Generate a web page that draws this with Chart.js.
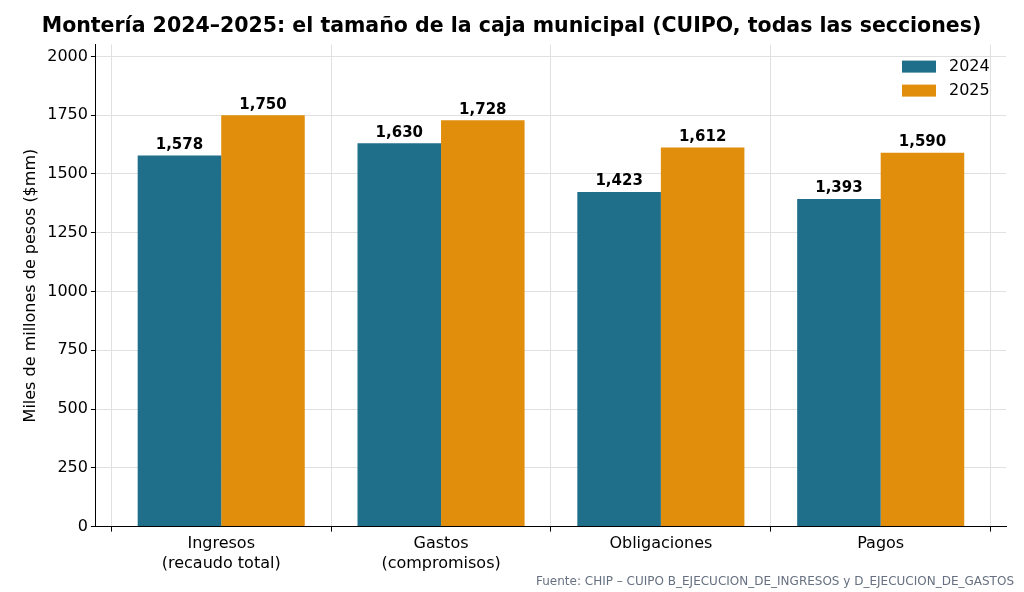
<!DOCTYPE html>
<html><head><meta charset="utf-8">
<script src="https://cdn.jsdelivr.net/npm/chart.js@4"></script>
<style>body{margin:0;background:#fff}#w{width:1024px;height:592px;position:relative}
#src{position:absolute;right:10px;bottom:4px;font:12px "DejaVu Sans";color:#667080}</style>
</head><body><div id="w"><canvas id="c" width="1024" height="592"></canvas><div id="src">Fuente: CHIP – CUIPO B_EJECUCION_DE_INGRESOS y D_EJECUCION_DE_GASTOS</div></div>
<script>
const categories=[["Ingresos","(recaudo total)"],["Gastos","(compromisos)"],"Obligaciones","Pagos"];
const values2024=[1578,1630,1423,1393];
const values2025=[1750,1728,1612,1590];
const yTicks=[0,250,500,750,1000,1250,1500,1750,2000];
const F='"DejaVu Sans"';
const labelsPlugin={id:'lbl',afterDatasetsDraw(ch){const x=ch.ctx;x.save();x.font='bold 15px '+F;x.fillStyle='#000';x.textAlign='center';x.textBaseline='bottom';
ch.data.datasets.forEach((d,i)=>ch.getDatasetMeta(i).data.forEach((b,j)=>x.fillText(d.data[j].y.toLocaleString('en-US'),b.x,b.y-3)));
const a=ch.chartArea;const items=[['2024','#1f6f8b'],['2025','#e08e0b']];x.font='16px '+F;x.textAlign='left';x.textBaseline='middle';
items.forEach((it,i)=>{const y=a.top+22+i*24;x.fillStyle=it[1];x.fillRect(a.right-104,y-6,34,12);x.fillStyle='#000';x.fillText(it[0],a.right-57,y);});x.restore();}};
new Chart(document.getElementById('c'),{type:'bar',
data:{datasets:[{label:'2024',data:values2024.map((v,i)=>({x:i,y:v})),backgroundColor:'#1f6f8b'},{label:'2025',data:values2025.map((v,i)=>({x:i,y:v})),backgroundColor:'#e08e0b'}]},
options:{responsive:false,animation:false,devicePixelRatio:1,
layout:{padding:{left:17,right:18,top:0,bottom:16}},
plugins:{legend:{display:false},tooltip:{enabled:false},
title:{display:true,text:'Montería 2024–2025: el tamaño de la caja municipal (CUIPO, todas las secciones)',font:{family:F,size:20.5,weight:'bold'},color:'#000',padding:{top:14,bottom:6}}},
datasets:{bar:{categoryPercentage:0.76,barPercentage:1}},
scales:{x:{type:'linear',offset:false,min:-0.57,max:3.57,afterBuildTicks(s){s.ticks=categories.map((c,i)=>({value:i}));},
grid:{color:'#e0e0e0',tickColor:'#000',tickLength:5},border:{color:'#000'},ticks:{color:'#000',font:{family:F,size:16},maxRotation:0,autoSkip:false,callback:v=>categories[v]}},
y:{min:0,max:2050,afterBuildTicks(s){s.ticks=yTicks.map(v=>({value:v}));},grid:{color:'#e0e0e0',tickColor:'#000',tickLength:5},border:{color:'#000'},
ticks:{color:'#000',font:{family:F,size:16},callback:v=>String(v)},
title:{display:true,text:'Miles de millones de pesos ($mm)',color:'#000',font:{family:F,size:16}}}}},
plugins:[labelsPlugin]});
</script></body></html>
